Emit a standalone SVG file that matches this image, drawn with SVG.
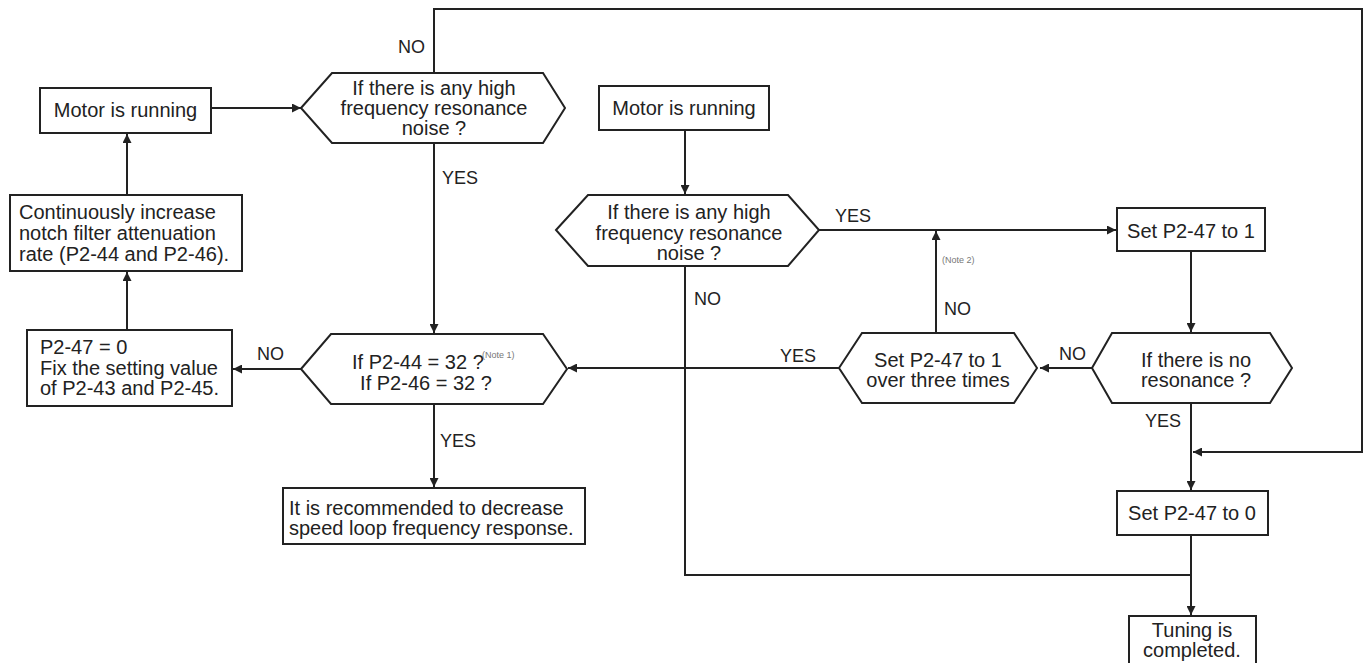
<svg xmlns="http://www.w3.org/2000/svg" width="1365" height="663" viewBox="0 0 1365 663">
<style>
.box{fill:#fff;stroke:#222;stroke-width:2}
.t{font-family:"Liberation Sans",Arial,sans-serif;font-size:20px;fill:#222}
.c{text-anchor:middle}
.lbl{font-family:"Liberation Sans",Arial,sans-serif;font-size:18px;fill:#222}
.note{font-family:"Liberation Sans",Arial,sans-serif;font-size:9px;fill:#777}
.ln{fill:none;stroke:#222;stroke-width:2}
</style>
<defs>
<marker id="ah" viewBox="0 0 10 10" refX="10" refY="5" markerWidth="9" markerHeight="9" markerUnits="userSpaceOnUse" orient="auto">
<path d="M0,0 L10,5 L0,10 z" fill="#222"/>
</marker>
</defs>
<rect width="1365" height="663" fill="#fff"/>
<g id="connectors">
<line class="ln" x1="211" y1="108" x2="301" y2="108" marker-end="url(#ah)"/>
<polyline class="ln" points="434,73 434,9 1362,9 1362,452 1193,452" marker-end="url(#ah)"/>
<line class="ln" x1="434" y1="143" x2="434" y2="333" marker-end="url(#ah)"/>
<line class="ln" x1="127" y1="195" x2="127" y2="134" marker-end="url(#ah)"/>
<line class="ln" x1="127" y1="330" x2="127" y2="272" marker-end="url(#ah)"/>
<line class="ln" x1="301" y1="369" x2="233" y2="369" marker-end="url(#ah)"/>
<line class="ln" x1="434" y1="404" x2="434" y2="487" marker-end="url(#ah)"/>
<line class="ln" x1="685" y1="130" x2="685" y2="194" marker-end="url(#ah)"/>
<line class="ln" x1="819" y1="230" x2="1116" y2="230" marker-end="url(#ah)"/>
<line class="ln" x1="1191" y1="251" x2="1191" y2="332" marker-end="url(#ah)"/>
<line class="ln" x1="1092" y1="368" x2="1040" y2="368" marker-end="url(#ah)"/>
<line class="ln" x1="839" y1="368" x2="568" y2="368" marker-end="url(#ah)"/>
<line class="ln" x1="936" y1="333" x2="936" y2="231" marker-end="url(#ah)"/>
<polyline class="ln" points="685,266 685,575 1191,575"/>
<line class="ln" x1="1191" y1="403" x2="1191" y2="490" marker-end="url(#ah)"/>
<line class="ln" x1="1191" y1="535" x2="1191" y2="615" marker-end="url(#ah)"/>
<text class="lbl" x="398" y="53">NO</text>
<text class="lbl" x="442" y="184">YES</text>
<text class="lbl" x="257" y="360">NO</text>
<text class="lbl" x="440" y="447">YES</text>
<text class="lbl" x="835" y="222">YES</text>
<text class="lbl" x="694" y="305">NO</text>
<text class="lbl" x="944" y="315">NO</text>
<text class="note" x="942" y="263">(Note 2)</text>
<text class="lbl" x="1059" y="360">NO</text>
<text class="lbl" x="780" y="362">YES</text>
<text class="lbl" x="1145" y="427">YES</text>
</g>
<g id="motor1">
<rect class="box" x="40" y="88" width="171" height="45"/>
<text class="t c" x="125.5" y="117">Motor is running</text>
</g>
<g id="hex1">
<polygon class="box" points="301,108 332,73 543,73 565,108 543,143 332,143"/>
<text class="t c" x="434" y="95">If there is any high</text>
<text class="t c" x="434" y="115">frequency resonance</text>
<text class="t c" x="434" y="135">noise ?</text>
</g>
<g id="increase">
<rect class="box" x="10" y="195" width="232" height="76"/>
<text class="t" x="19" y="219">Continuously increase</text>
<text class="t" x="19" y="240">notch filter attenuation</text>
<text class="t" x="19" y="261">rate (P2-44 and P2-46).</text>
</g>
<g id="fix">
<rect class="box" x="27" y="330" width="205" height="76"/>
<text class="t" x="40" y="354">P2-47 = 0</text>
<text class="t" x="40" y="375">Fix the setting value</text>
<text class="t" x="40" y="395">of P2-43 and P2-45.</text>
</g>
<g id="hex2">
<polygon class="box" points="301,369 331,334 543,334 567,369 543,404 331,404"/>
<text class="t" x="352" y="369">If P2-44 = 32 ?</text>
<text class="note" x="482" y="358">(Note 1)</text>
<text class="t c" x="426" y="390">If P2-46 = 32 ?</text>
</g>
<g id="decrease">
<rect class="box" x="283" y="488" width="302" height="56"/>
<text class="t" x="289" y="515">It is recommended to decrease</text>
<text class="t" x="289" y="535">speed loop frequency response.</text>
</g>
<g id="motor2">
<rect class="box" x="599" y="86" width="170" height="44"/>
<text class="t c" x="684" y="115">Motor is running</text>
</g>
<g id="hex3">
<polygon class="box" points="556,230 588,195 788,195 819,230 788,266 588,266"/>
<text class="t c" x="689" y="219">If there is any high</text>
<text class="t c" x="689" y="240">frequency resonance</text>
<text class="t c" x="689" y="260">noise ?</text>
</g>
<g id="set1">
<rect class="box" x="1117" y="208" width="148" height="43"/>
<text class="t c" x="1191" y="238">Set P2-47 to 1</text>
</g>
<g id="hex5">
<polygon class="box" points="1092,368 1112,333 1270,333 1292,368 1270,403 1112,403"/>
<text class="t c" x="1196" y="367">If there is no</text>
<text class="t c" x="1196" y="387">resonance ?</text>
</g>
<g id="hex4">
<polygon class="box" points="839,368 862,333 1014,333 1037,368 1014,403 862,403"/>
<text class="t c" x="938" y="367">Set P2-47 to 1</text>
<text class="t c" x="938" y="387">over three times</text>
</g>
<g id="set0">
<rect class="box" x="1117" y="491" width="151" height="44"/>
<text class="t c" x="1192" y="520">Set P2-47 to 0</text>
</g>
<g id="done">
<rect class="box" x="1129" y="616" width="127" height="60"/>
<text class="t c" x="1192" y="637">Tuning is</text>
<text class="t c" x="1192" y="657">completed.</text>
</g>
</svg>
